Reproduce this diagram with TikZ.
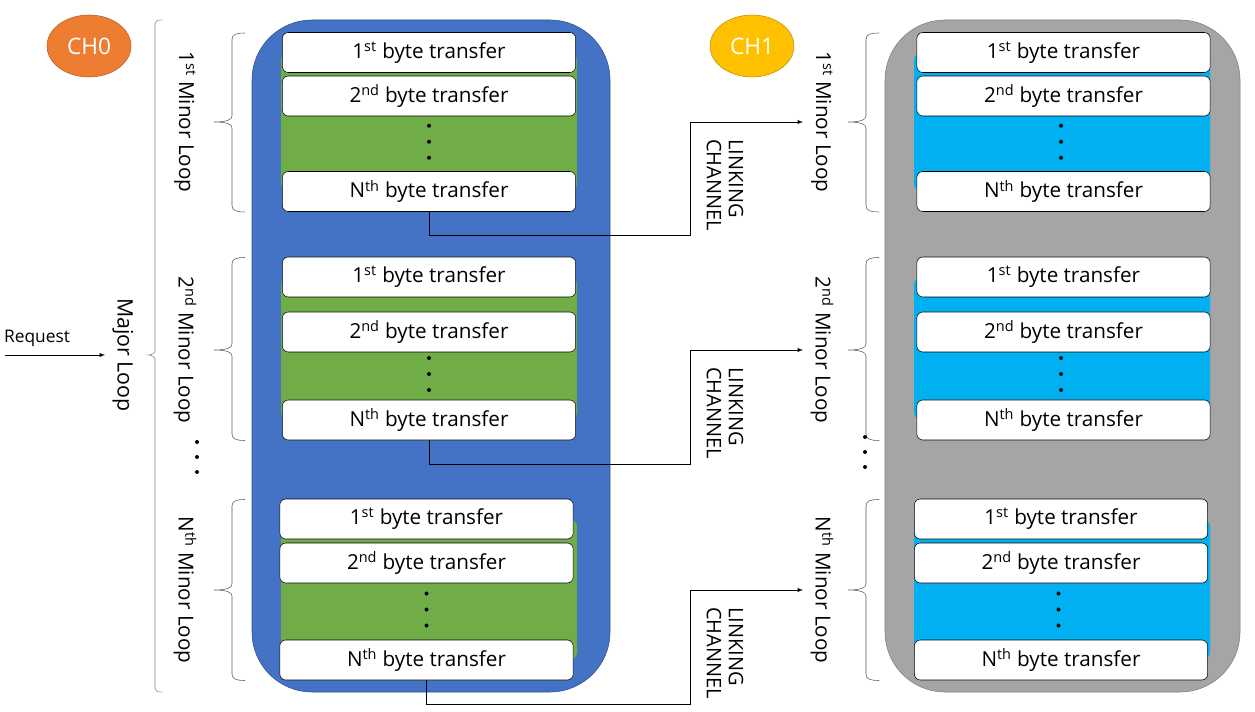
\documentclass[tikz,border=0pt]{standalone}
\usepackage{fontspec}
\setmainfont{Open Sans}
\usetikzlibrary{arrows,shapes.geometric}

\definecolor{chblue}{HTML}{4472C4}
\definecolor{chblueline}{HTML}{2F528F}
\definecolor{chgreen}{HTML}{70AD47}
\definecolor{chcyan}{HTML}{00B0F0}
\definecolor{chgray}{HTML}{A5A5A5}
\definecolor{chgrayline}{HTML}{7F7F7F}
\definecolor{chorange}{HTML}{ED7D31}
\definecolor{chyellow}{HTML}{FFC000}
\definecolor{bracegray}{HTML}{595959}

\begin{document}
\begin{tikzpicture}[x=0.75pt,y=-0.75pt,
	xfer/.style={draw=black, fill=white, rounded corners=4.5pt, minimum width=220pt, minimum height=30pt, inner sep=0pt, font=\fontsize{15.5}{17}\selectfont},
	loopname/.style={rotate=-90, font=\fontsize{15.5}{17}\selectfont},
	linkname/.style={rotate=-90, align=left, font=\fontsize{15}{16.5}\selectfont},
	chname/.style={ellipse, minimum width=63pt, minimum height=46.5pt, inner sep=0pt, text=white, font=\fontsize{17}{19}\selectfont},
	bracket/.style={draw=bracegray},
	link/.style={arrows={-latex}}]
	\useasboundingbox (0,0) rectangle (1255,712);

	% channel blocks
	\draw [draw=chblueline, fill=chblue, rounded corners=45pt] (252,20) rectangle (610,692);
	\draw [draw=chgrayline, fill=chgray, rounded corners=45pt] (885,20) rectangle (1240,692);
	\node [chname, draw=chorange!75!black, fill=chorange] (ch0) at (89,46) {CH0};
	\node [chname, draw=chyellow!75!black, fill=chyellow] (ch1) at (752,46) {CH1};

	% major loop
	\draw [draw=chgrayline] (162,20) .. controls (157,20) and (155,21) .. (155,24) -- (155,351)
		.. controls (155,353) and (152,355) .. (148,355) .. controls (152,355) and (155,357) .. (155,359)
		-- (155,688) .. controls (155,691) and (157,692) .. (162,692);
	\node [loopname, font=\fontsize{16}{18}\selectfont] (major) at (123,355) {Major Loop};
	\coordinate (req) at (5,355);
	\coordinate (majortip) at (105,355);
	\draw [link] (req) -- (majortip);
	\node [font=\fontsize{13}{15}\selectfont] (reqname) at (37,338) {Request};

	% minor loops
	\foreach \g/\num/\suf/\ya/\yb/\yn/\ym/\dx in {1/1/st/52.5/96/191.5/122/0, 2/2/nd/277/332/420/350/0, 3/N/th/519/563/660/590/-2.5} {
		\fill [chgreen, rounded corners=6pt] (281,\ya) rectangle (577,\yn);
		\fill [chcyan, rounded corners=6pt] (914,\ya) rectangle (1210,\yn);
		\node [xfer] (a\g) at (429+\dx,\ya) {1\textsuperscript{st} byte transfer};
		\node [xfer] (b\g) at (429+\dx,\yb) {2\textsuperscript{nd} byte transfer};
		\node [xfer] (n\g) at (429+\dx,\yn) {N\textsuperscript{th} byte transfer};
		\node [xfer] (p\g) at (1063.5+\dx,\ya) {1\textsuperscript{st} byte transfer};
		\node [xfer] (q\g) at (1063.5+\dx,\yb) {2\textsuperscript{nd} byte transfer};
		\node [xfer] (r\g) at (1063.5+\dx,\yn) {N\textsuperscript{th} byte transfer};
		\foreach \k in {-16,0,16} {
			\fill (429+\dx,{(\yb+\yn)/2-2+\k}) circle (1.5pt);
			\fill (1061+\dx,{(\yb+\yn)/2-2+\k}) circle (1.5pt);
		}
		\foreach \bx in {232,866} {
			\draw [bracket] (\bx+13,\ya-19.5) .. controls (\bx+4,\ya-19.5) and (\bx,\ya-18) .. (\bx,\ya-13)
				-- (\bx,\ym-6) .. controls (\bx,\ym-2) and (\bx-6,\ym) .. (\bx-18,\ym)
				.. controls (\bx-6,\ym) and (\bx,\ym+2) .. (\bx,\ym+6)
				-- (\bx,\yn+14) .. controls (\bx,\yn+19) and (\bx+4,\yn+20.5) .. (\bx+13,\yn+20.5);
		}
		\node [loopname] (lm\g) at (185,\ym) {\num\textsuperscript{\suf} Minor Loop};
		\node [loopname] (rm\g) at (822,\ym) {\num\textsuperscript{\suf} Minor Loop};
		% linking channel
		\coordinate (turn\g) at (690,\ym);
		\coordinate (in\g) at (803,\ym);
		\draw [link] (n\g.south) -- ++(0,24) -| (turn\g) -- (in\g);
		\node [linkname] (lk\g) at (725,\ym+63) {LINKING\\CHANNEL};
	}

	% more loops
	\foreach \k in {0,15,30} {
		\fill (197,442+\k) circle (1.5pt);
		\fill (865,437+\k) circle (1.5pt);
	}
\end{tikzpicture}
\end{document}
